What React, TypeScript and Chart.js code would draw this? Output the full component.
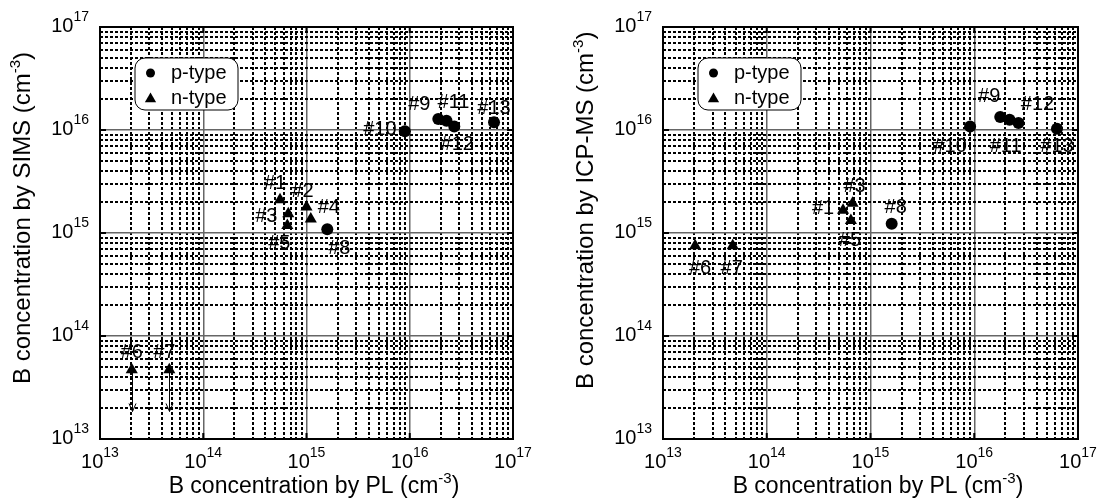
import React, { useEffect, useRef } from "react";
import { Chart, registerables } from "chart.js";

Chart.register(...registerables);

// ---------- data ----------
const SIMS_IDS = ["#1", "#2", "#3", "#4", "#5", "#6", "#7", "#8", "#9", "#10", "#11", "#12", "#13"];
const SIMS_TYPES = ["n", "n", "n", "n", "n", "n", "n", "p", "p", "p", "p", "p", "p"];
const SIMS_PL = [5.54e14, 1.0e15, 6.66e14, 1.1e15, 6.52e14, 2.03e13, 4.69e13, 1.59e15, 1.89e16, 8.97e15, 2.27e16, 2.7e16, 6.55e16];
const SIMS_VALUES = [2.1e15, 1.79e15, 1.54e15, 1.37e15, 1.18e15, 4.71e13, 4.71e13, 1.09e15, 1.28e16, 9.7e15, 1.23e16, 1.08e16, 1.19e16];
const SIMS_UPPER_LIMIT_IDS = ["#6", "#7"];
const SIMS_ARROW_END = 1.85e13;

const ICP_IDS = ["#1", "#3", "#5", "#6", "#7", "#8", "#9", "#10", "#11", "#12", "#13"];
const ICP_TYPES = ["n", "n", "n", "n", "n", "p", "p", "p", "p", "p", "p"];
const ICP_PL = [5.44e14, 6.72e14, 6.47e14, 2.04e13, 4.7e13, 1.6e15, 1.78e16, 9.12e15, 2.19e16, 2.67e16, 6.27e16];
const ICP_VALUES = [1.66e15, 1.95e15, 1.32e15, 7.53e14, 7.53e14, 1.23e15, 1.34e16, 1.08e16, 1.26e16, 1.17e16, 1.03e16];

const DECADE_EXPONENTS = [13, 14, 15, 16, 17];
const MINOR_MULTIPLIERS = [2, 3, 4, 5, 6, 7, 8, 9];
const LEGEND_LABELS = ["p-type", "n-type"];
const X_TITLE = "B concentration by PL (cm";
const Y_TITLE_SIMS = "B concentration by SIMS (cm";
const Y_TITLE_ICP = "B concentration by ICP-MS (cm";
const UNIT_EXP = "-3";

// ---------- layout / style (not data) ----------
const FONT = '"Liberation Sans", Arial, Helvetica, sans-serif';
const SIMS_LABEL_OFFSETS: Record<string, [number, number]> = {
  "#1": [-5, -16], "#2": [-4, -15], "#3": [-22, 3], "#4": [18, -11], "#5": [-8, 18],
  "#6": [0, -17], "#7": [-5, -17], "#8": [12, 19], "#9": [-19, -14], "#10": [-25, -2],
  "#11": [7, -18], "#12": [3, 18], "#13": [0, -14],
};
const ICP_LABEL_OFFSETS: Record<string, [number, number]> = {
  "#1": [-20, -2], "#3": [2, -17], "#5": [-1, 20], "#6": [5, 23], "#7": [-1, 23],
  "#8": [4, -16], "#9": [-11, -20], "#10": [-20, 20], "#11": [-4, 27], "#12": [19, -18], "#13": [0, 18],
};

const TICK_VALUES: { value: number; major: boolean }[] = [];
DECADE_EXPONENTS.forEach((e, i) => {
  TICK_VALUES.push({ value: Math.pow(10, e), major: true });
  if (i < DECADE_EXPONENTS.length - 1) {
    MINOR_MULTIPLIERS.forEach((m) => TICK_VALUES.push({ value: m * Math.pow(10, e), major: false }));
  }
});

type PanelCfg = {
  ids: string[];
  types: string[];
  xs: number[];
  ys: number[];
  offsets: Record<string, [number, number]>;
  yTitle: string;
  yTitleStart: number;
  upperLimitIds: string[];
  arrowEnd: number;
};

function drawSupText(ctx: CanvasRenderingContext2D, main: string, sup: string, tail: string, x: number, y: number, mainSize: number, supSize: number, rise: number) {
  ctx.font = `${mainSize}px ${FONT}`;
  const w1 = ctx.measureText(main).width;
  ctx.fillText(main, x, y);
  ctx.font = `${supSize}px ${FONT}`;
  const w2 = ctx.measureText(sup).width;
  ctx.fillText(sup, x + w1, y - rise);
  ctx.font = `${mainSize}px ${FONT}`;
  if (tail) ctx.fillText(tail, x + w1 + w2, y);
}

function measureSup(ctx: CanvasRenderingContext2D, main: string, sup: string, tail: string, mainSize: number, supSize: number) {
  ctx.font = `${mainSize}px ${FONT}`;
  const a = ctx.measureText(main).width + (tail ? ctx.measureText(tail).width : 0);
  ctx.font = `${supSize}px ${FONT}`;
  return a + ctx.measureText(sup).width;
}

function triangle(ctx: CanvasRenderingContext2D, x: number, y: number, r: number) {
  ctx.beginPath();
  ctx.moveTo(x, y - r);
  ctx.lineTo(x + 0.866 * r, y + r / 2);
  ctx.lineTo(x - 0.866 * r, y + r / 2);
  ctx.closePath();
  ctx.fill();
}

function makeOverlay(cfg: PanelCfg) {
  return {
    id: "overlay",
    afterDraw(chart: any) {
      const ctx: CanvasRenderingContext2D = chart.ctx;
      const a = chart.chartArea;
      const sx = chart.scales.x;
      const sy = chart.scales.y;
      ctx.save();
      ctx.fillStyle = "#000";
      ctx.strokeStyle = "#000";

      // major inward ticks
      ctx.lineWidth = 2;
      DECADE_EXPONENTS.forEach((e) => {
        const v = Math.pow(10, e);
        const px = sx.getPixelForValue(v);
        const py = sy.getPixelForValue(v);
        ctx.beginPath();
        ctx.moveTo(px, a.bottom); ctx.lineTo(px, a.bottom - 6);
        ctx.moveTo(px, a.top); ctx.lineTo(px, a.top + 6);
        ctx.moveTo(a.left, py); ctx.lineTo(a.left + 6, py);
        ctx.moveTo(a.right, py); ctx.lineTo(a.right - 6, py);
        ctx.stroke();
      });

      // frame
      ctx.lineWidth = 2;
      ctx.strokeRect(a.left, a.top, a.right - a.left, a.bottom - a.top);

      // tick labels
      ctx.textAlign = "left";
      ctx.textBaseline = "alphabetic";
      DECADE_EXPONENTS.forEach((e) => {
        const v = Math.pow(10, e);
        const w = measureSup(ctx, "10", String(e), "", 20, 14);
        const px = sx.getPixelForValue(v);
        drawSupText(ctx, "10", String(e), "", px - w / 2, a.bottom + 29, 20, 14, 11);
        const py = sy.getPixelForValue(v);
        drawSupText(ctx, "10", String(e), "", a.left - 11 - w, py + 5, 20, 14, 11);
      });

      // axis titles
      const xw = measureSup(ctx, X_TITLE, UNIT_EXP, ")", 23, 15);
      drawSupText(ctx, X_TITLE, UNIT_EXP, ")", (a.left + a.right) / 2 + 7.5 - xw / 2, a.bottom + 54, 23, 15, 10);
      ctx.save();
      ctx.translate(a.left - 70, cfg.yTitleStart);
      ctx.rotate(-Math.PI / 2);
      drawSupText(ctx, cfg.yTitle, UNIT_EXP, ")", 0, 0, 24, 15, 10);
      ctx.restore();

      // upper-limit arrows
      ctx.lineWidth = 1;
      cfg.ids.forEach((id, i) => {
        if (cfg.upperLimitIds.indexOf(id) < 0) return;
        const px = Math.round(sx.getPixelForValue(cfg.xs[i])) + 0.5;
        const py = sy.getPixelForValue(cfg.ys[i]);
        const ty = sy.getPixelForValue(cfg.arrowEnd);
        ctx.beginPath();
        ctx.moveTo(px, py);
        ctx.lineTo(px, ty);
        ctx.moveTo(px - 3.5, ty - 8);
        ctx.lineTo(px, ty);
        ctx.lineTo(px + 3.5, ty - 8);
        ctx.stroke();
      });

      // point labels
      ctx.font = `20px ${FONT}`;
      ctx.textAlign = "center";
      ctx.textBaseline = "middle";
      cfg.ids.forEach((id, i) => {
        const off = cfg.offsets[id] || [0, -16];
        const px = sx.getPixelForValue(cfg.xs[i]);
        const py = sy.getPixelForValue(cfg.ys[i]);
        ctx.fillText(id, px + off[0], py + off[1]);
      });

      // legend
      const bx = a.left + 35;
      const by = a.top + 31;
      ctx.beginPath();
      ctx.roundRect(bx, by, 103, 52, 10);
      ctx.fillStyle = "#fff";
      ctx.fill();
      ctx.lineWidth = 1;
      ctx.strokeStyle = "#000";
      ctx.stroke();
      ctx.fillStyle = "#000";
      ctx.beginPath();
      ctx.arc(bx + 15.5, by + 15, 4.5, 0, Math.PI * 2);
      ctx.fill();
      triangle(ctx, bx + 15.5, by + 41, 6.5);
      ctx.textAlign = "left";
      ctx.textBaseline = "middle";
      ctx.font = `20px ${FONT}`;
      ctx.fillText(LEGEND_LABELS[0], bx + 36, by + 15);
      ctx.fillText(LEGEND_LABELS[1], bx + 36, by + 40);
      ctx.restore();
    },
  };
}

function buildDatasets(cfg: PanelCfg) {
  const mk = (t: string) =>
    cfg.ids
      .map((id, i) => ({ x: cfg.xs[i], y: cfg.ys[i], id, t: cfg.types[i] }))
      .filter((p) => p.t === t);
  return [
    {
      label: LEGEND_LABELS[0],
      data: mk("p"),
      pointStyle: "circle",
      pointRadius: 6,
      pointBorderWidth: 0,
      backgroundColor: "#000",
      borderColor: "#000",
    },
    {
      label: LEGEND_LABELS[1],
      data: mk("n"),
      pointStyle: "triangle",
      pointRadius: 7,
      pointBorderWidth: 0,
      backgroundColor: "#000",
      borderColor: "#000",
    },
  ];
}

function axis() {
  return {
    type: "logarithmic" as const,
    min: 1e13,
    max: 1e17,
    ticks: { display: false },
    title: { display: false },
    afterBuildTicks: (scale: any) => {
      scale.ticks = TICK_VALUES.map((t) => ({ value: t.value, major: t.major }));
    },
    grid: {
      drawTicks: false,
      color: (c: any) => (c.tick && c.tick.major ? "#666" : "#000"),
      lineWidth: (c: any) => (c.tick && c.tick.major ? 1.5 : 2),
    },
    border: {
      display: false,
      dash: (c: any) => (c.tick && c.tick.major ? [] : [3, 2]),
    },
  };
}

function Panel({ cfg, left, width, padding }: { cfg: PanelCfg; left: number; width: number; padding: any }) {
  const ref = useRef<HTMLCanvasElement>(null);
  useEffect(() => {
    if (!ref.current) return;
    const chart = new Chart(ref.current, {
      type: "scatter",
      data: { datasets: buildDatasets(cfg) as any },
      options: {
        responsive: false,
        animation: false,
        devicePixelRatio: 1,
        layout: { padding },
        plugins: { legend: { display: false }, tooltip: { enabled: false } },
        scales: { x: axis() as any, y: axis() as any },
      },
      plugins: [makeOverlay(cfg)],
    });
    return () => chart.destroy();
  }, []);
  return (
    <canvas
      ref={ref}
      width={width}
      height={504}
      style={{ position: "absolute", left, top: 0, width, height: 504 }}
    />
  );
}

const SIMS_CFG: PanelCfg = {
  ids: SIMS_IDS,
  types: SIMS_TYPES,
  xs: SIMS_PL,
  ys: SIMS_VALUES,
  offsets: SIMS_LABEL_OFFSETS,
  yTitle: Y_TITLE_SIMS,
  yTitleStart: 384,
  upperLimitIds: SIMS_UPPER_LIMIT_IDS,
  arrowEnd: SIMS_ARROW_END,
};

const ICP_CFG: PanelCfg = {
  ids: ICP_IDS,
  types: ICP_TYPES,
  xs: ICP_PL,
  ys: ICP_VALUES,
  offsets: ICP_LABEL_OFFSETS,
  yTitle: Y_TITLE_ICP,
  yTitleStart: 389,
  upperLimitIds: [],
  arrowEnd: SIMS_ARROW_END,
};

export default function App() {
  return (
    <div style={{ position: "absolute", left: 0, top: 0, width: 1099, height: 504, background: "#fff" }}>
      <Panel cfg={SIMS_CFG} left={0} width={550} padding={{ left: 100, right: 37, top: 27, bottom: 65 }} />
      <Panel cfg={ICP_CFG} left={550} width={549} padding={{ left: 113, right: 21, top: 27, bottom: 65 }} />
    </div>
  );
}
